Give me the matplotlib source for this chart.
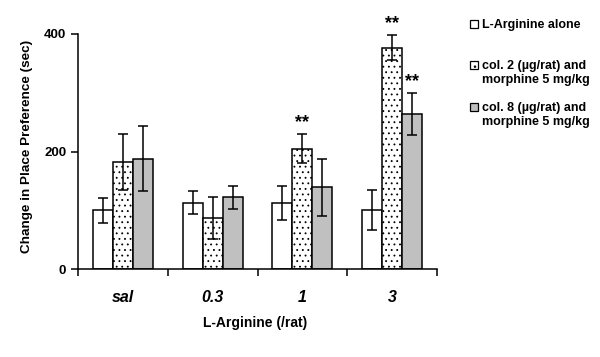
import numpy as np
import matplotlib.pyplot as plt
from matplotlib.patches import Rectangle

# doses of L-Arginine
groups = ["sal", "0.3", "1", "3"]

alone = [100, 113, 113, 100]
alone_err = [21, 20, 29, 34]
col2 = [182, 87, 205, 377]
col2_err = [48, 36, 25, 22]
col8 = [188, 122, 139, 264]
col8_err = [55, 20, 49, 36]

labels = ["L-Arginine alone",
          "col. 2 (\u00b5g/rat) and\nmorphine 5 mg/kg",
          "col. 8 (\u00b5g/rat) and\nmorphine 5 mg/kg"]

# significance marks: (group index, series index)
stars = [(2, 1), (3, 1), (3, 2)]

plt.rcParams['font.family'] = ['Liberation Sans', 'DejaVu Sans']
plt.rcParams['hatch.linewidth'] = 0.6

W, H = 600, 357
fig = plt.figure(figsize=(6, 3.57), dpi=100)
ax = fig.add_axes([78 / W, 1 - 269 / H, 359 / W, 235 / H])

x = np.arange(len(groups))
w = 0.222
fills = [('white', ''), ('white', '...'), ('#c0c0c0', '')]
all_vals = [alone, col2, col8]
all_errs = [alone_err, col2_err, col8_err]

for i, (vals, errs) in enumerate(zip(all_vals, all_errs)):
    col, hatch = fills[i]
    ax.bar(x + (i - 1) * w, vals, w, color=col, edgecolor='black',
           linewidth=1.1, hatch=hatch, yerr=errs, capsize=3.5,
           error_kw=dict(elinewidth=1.1, capthick=1.1, ecolor='black'))

for g, s in stars:
    top = all_vals[s][g] + all_errs[s][g]
    ax.text(x[g] + (s - 1) * w, top + 4, "**", ha='center', va='bottom',
            fontsize=13, fontweight='bold')

ax.set_xlim(-0.5, 3.5)
ax.set_ylim(0, 400)
ax.set_yticks([0, 200, 400])
ax.set_xticks(np.arange(-0.5, 4, 1))
ax.set_xticklabels([])
ax.tick_params(axis='x', direction='out', length=5, width=1.1)
ax.tick_params(axis='y', direction='out', length=5, width=1.1, labelsize=9.5)
for lab in ax.get_yticklabels():
    lab.set_fontweight('bold')
for g, name in zip(x, groups):
    ax.text(g, -0.12, name, transform=ax.get_xaxis_transform(), ha='center',
            va='center', fontsize=11.5, fontweight='bold', style='italic')

ax.spines['top'].set_visible(False)
ax.spines['right'].set_visible(False)
ax.spines['left'].set_linewidth(1.1)
ax.spines['bottom'].set_linewidth(1.1)

fig.text(27 / W, 1 - 146 / H, "Change in Place Preference (sec)", rotation=90,
         ha='center', va='center', fontsize=9.7, fontweight='bold')
fig.text(255 / W, 1 - 323 / H, "L-Arginine (/rat)", ha='center', va='center',
         fontsize=10, fontweight='bold')

# legend, drawn by hand so the boxes sit on the first text line
leg_y = [24, 65, 107]
for (col, hatch), lab, yy in zip(fills, labels, leg_y):
    fig.patches.append(Rectangle((470 / W, 1 - (yy + 4) / H), 8 / W, 8 / H,
                                 transform=fig.transFigure, facecolor=col,
                                 edgecolor='black', linewidth=0.9,
                                 hatch='..' if hatch else ''))
    fig.text(482 / W, 1 - (yy - 5) / H, lab, ha='left', va='top',
             fontsize=9, fontweight='bold', linespacing=1.2)

fig.savefig("out.png", dpi=100)
